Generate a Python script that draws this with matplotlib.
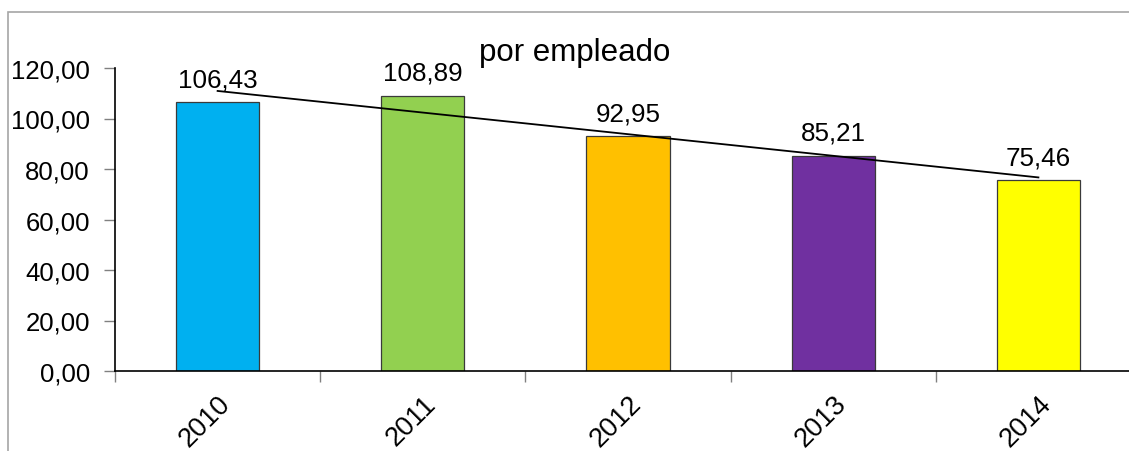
import matplotlib
matplotlib.use("Agg")
import matplotlib.pyplot as plt
import numpy as np
from matplotlib.patches import Rectangle
from matplotlib.transforms import ScaledTranslation

years = ["2010", "2011", "2012", "2013", "2014"]
values = [106.43, 108.89, 92.95, 85.21, 75.46]
colors = ["#00B0F0", "#92D050", "#FFC000", "#7030A0", "#FFFF00"]
yticks = [0, 20, 40, 60, 80, 100, 120]
title = "por empleado"

plt.rcParams['font.family'] = ['Liberation Sans', 'DejaVu Sans']
fig = plt.figure(figsize=(11.29, 4.52), dpi=100)
fig.patches.append(Rectangle((8/1129, -0.1), 1.2, (452-13)/452 + 0.1, transform=fig.transFigure,
                             fill=False, edgecolor="#A6A6A6", linewidth=1.2))
ax = fig.add_axes([115/1129, (452-372)/452, 1026/1129, 303/452])
x = np.arange(len(years))
ax.bar(x, values, width=0.405, color=colors, edgecolor="#3a3a3a", linewidth=0.9, zorder=2)

coef = np.polyfit(x, values, 1)
ax.plot([x[0], x[-1]], np.polyval(coef, [x[0], x[-1]]), color="black", linewidth=1.3, zorder=3)

for xi, v in zip(x, values):
    ax.annotate(f"{v:.2f}".replace(".", ","), (xi, v), xytext=(0, 8), textcoords="offset points",
                ha="center", va="bottom", fontsize=18.7, zorder=4)

ax.set_xlim(-0.5, len(years) - 0.5)
ax.set_ylim(0, 120)
ax.set_yticks(yticks)
ax.set_yticklabels([f"{t:.2f}".replace(".", ",") for t in yticks], fontsize=18.5)
ax.set_xticks(x)
ax.set_xticklabels(years, rotation=45, ha="right", va="top", rotation_mode="anchor", fontsize=19.5)
off = ScaledTranslation(-6/100, 2/100, fig.dpi_scale_trans)
for lab in ax.get_xticklabels():
    lab.set_transform(lab.get_transform() + off)
ax.tick_params(axis="x", which="major", length=0, pad=14)
ax.set_xticks(np.arange(-0.5, len(years) + 0.5), minor=True)
ax.tick_params(axis="x", which="minor", length=8, color="#808080", width=1)
ax.tick_params(axis="y", length=8, color="#808080", width=1, pad=10)
for s in ["top", "right"]:
    ax.spines[s].set_visible(False)
ax.spines["left"].set_linewidth(1.2)
ax.spines["bottom"].set_linewidth(1.2)

fig.text(575/1129, 1 - 53/452, title, ha="center", va="center", fontsize=22.5)
fig.savefig("out.png", dpi=100)
